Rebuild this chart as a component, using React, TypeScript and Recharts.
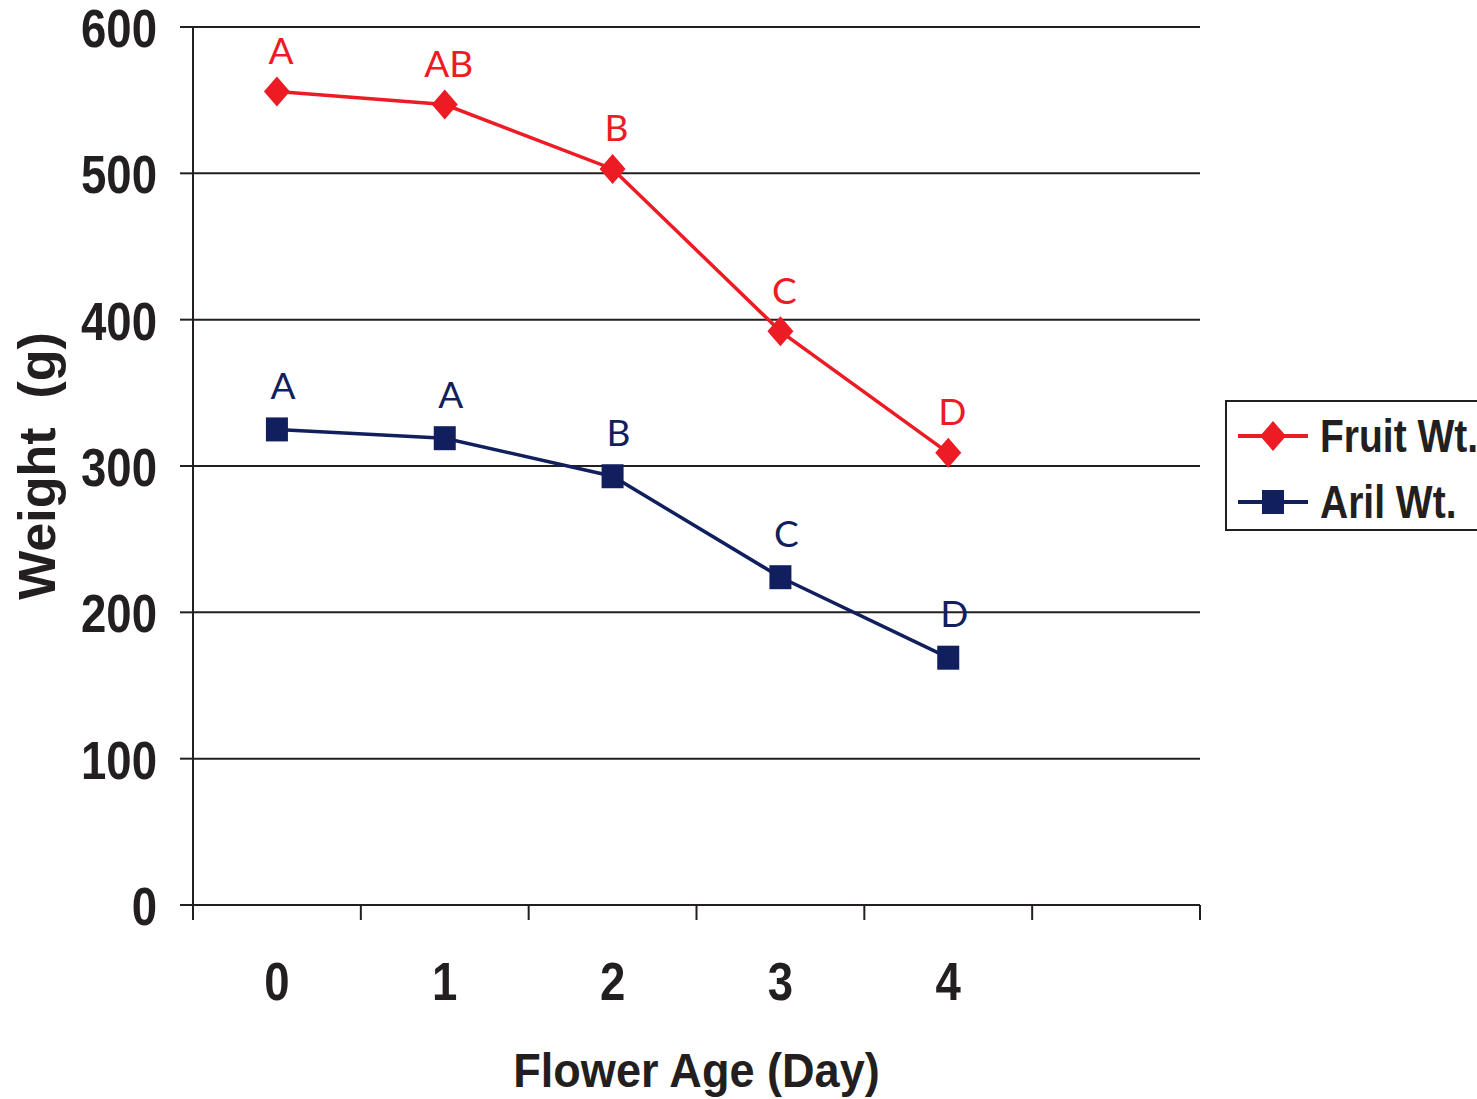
import React from "react";
import {
  LineChart,
  Line,
  XAxis,
  YAxis,
  CartesianGrid,
  Legend,
  LabelList,
  Label,
} from "recharts";

// data
const ages = [0, 1, 2, 3, 4];
const fruitWt = [556, 547, 503, 392, 309];
const arilWt = [325, 319, 293, 224, 169];
const fruitLetters = ["A", "AB", "B", "C", "D"];
const arilLetters = ["A", "A", "B", "C", "D"];
const yTicks = [0, 100, 200, 300, 400, 500, 600];
// six category slots, tick marks sit between them
const slotEdges = [-0.5, 0.5, 1.5, 2.5, 3.5, 4.5, 5.5];
const legendOrder = ["fruit", "aril"];

const RED = "#ED1C24";
const NAVY = "#121F5E";
const INK = "#231F20";

const chartData = ages.map((age, i) => ({
  age,
  fruit: fruitWt[i],
  aril: arilWt[i],
  fruitLetter: fruitLetters[i],
  arilLetter: arilLetters[i],
}));

// no narrow font installed, so squeeze Liberation Sans Bold horizontally
const CondText = ({ x, y, size, sx, anchor = "start", children }: any) => (
  <text
    transform={`translate(${x},${y}) scale(${sx},1)`}
    textAnchor={anchor}
    fill={INK}
    fontFamily="Liberation Sans, Arial, sans-serif"
    fontWeight="bold"
    fontSize={size}
  >
    {children}
  </text>
);

const Diamond = ({ cx, cy }: any) => (
  <polygon
    points={`${cx},${cy - 15} ${cx + 13},${cy} ${cx},${cy + 15} ${cx - 13},${cy}`}
    fill={RED}
  />
);

const Square = ({ cx, cy }: any) => (
  <rect x={cx - 11} y={cy - 12} width={22} height={24} fill={NAVY} />
);

const letter = (color: string, dx: number, dy: number) => (p: any) => (
  <text
    x={p.x + dx}
    y={p.y + dy}
    textAnchor="middle"
    dominantBaseline="central"
    fill={color}
    fontFamily="Lato, sans-serif"
    fontSize={37}
  >
    {p.value}
  </text>
);

const AgeTick = ({ x, y, payload }: any) => {
  const v = payload.value;
  if (ages.includes(v)) {
    return (
      <CondText x={x} y={y + 95} size={53} sx={0.86} anchor="middle">
        {v}
      </CondText>
    );
  }
  return <line x1={x} x2={x} y1={y} y2={y + 15} stroke={INK} strokeWidth={2} />;
};

const WeightTick = ({ x, y, payload }: any) => (
  <CondText x={x} y={y + 20} size={53} sx={0.86} anchor="end">
    {payload.value}
  </CondText>
);

const LegendBox = ({ payload }: any) => {
  const items = [...(payload || [])].sort(
    (a: any, b: any) => legendOrder.indexOf(a.dataKey) - legendOrder.indexOf(b.dataKey)
  );
  return (
    <svg width={252} height={131} style={{ display: "block" }}>
      <path d="M252,1 H1 V130 H252" fill="none" stroke={INK} strokeWidth={2} />
      {items.map((item: any, i: number) => {
        const cy = 36 + i * 66;
        const isFruit = item.dataKey === "fruit";
        const c = isFruit ? RED : NAVY;
        return (
          <g key={item.value}>
            <line x1={13} x2={83} y1={cy} y2={cy} stroke={c} strokeWidth={4} />
            {isFruit ? <Diamond cx={48} cy={cy} /> : <Square cx={48} cy={cy} />}
            <CondText x={95} y={cy + 16} size={47} sx={0.83}>
              {item.value}
            </CondText>
          </g>
        );
      })}
    </svg>
  );
};

export default function App() {
  return (
    <div style={{ position: "absolute", left: 0, top: 0, background: "#fff" }}>
      <LineChart
        width={1477}
        height={1099}
        data={chartData}
        margin={{ top: 27, right: 277, bottom: 0, left: 0 }}
      >
        <CartesianGrid vertical={false} stroke={INK} strokeWidth={2} />
        <XAxis
          dataKey="age"
          type="number"
          domain={[-0.5, 5.5]}
          ticks={[...slotEdges, ...ages]}
          interval={0}
          height={194}
          tickSize={0}
          tickMargin={0}
          tickLine={false}
          axisLine={{ stroke: INK, strokeWidth: 2 }}
          tick={<AgeTick />}
        >
          <Label
            content={(p: any) => (
              <CondText
                x={p.viewBox.x + p.viewBox.width / 2}
                y={p.viewBox.y + 182}
                size={49}
                sx={0.92}
                anchor="middle"
              >
                Flower Age (Day)
              </CondText>
            )}
          />
        </XAxis>
        <YAxis
          width={193}
          domain={[0, 600]}
          ticks={yTicks}
          interval={0}
          tickSize={13}
          tickMargin={23}
          tickLine={{ stroke: INK, strokeWidth: 2 }}
          axisLine={{ stroke: INK, strokeWidth: 2 }}
          tick={<WeightTick />}
        >
          <Label
            value={"Weight\u00A0 (g)"}
            angle={-90}
            position="insideLeft"
            offset={37}
            fill={INK}
            fontFamily="Liberation Sans, Arial, sans-serif"
            fontWeight="bold"
            fontSize={52}
            style={{ textAnchor: "middle" }}
          />
        </YAxis>
        <YAxis
          yAxisId="frame"
          orientation="right"
          width={0}
          domain={[0, 600]}
          tick={false}
          tickLine={false}
          axisLine={{ stroke: INK, strokeWidth: 2 }}
        />
        <Legend
          layout="horizontal"
          verticalAlign="middle"
          align="center"
          content={<LegendBox />}
          wrapperStyle={{ left: 1225, top: 400, width: 252, height: 131 }}
        />
        <Line
          dataKey="fruit"
          name="Fruit Wt."
          stroke={RED}
          strokeWidth={3.5}
          dot={<Diamond />}
          activeDot={false}
          isAnimationActive={false}
        >
          <LabelList dataKey="fruitLetter" content={letter(RED, 4, -42)} />
        </Line>
        <Line
          dataKey="aril"
          name="Aril Wt."
          stroke={NAVY}
          strokeWidth={3.5}
          dot={<Square />}
          activeDot={false}
          isAnimationActive={false}
        >
          <LabelList dataKey="arilLetter" content={letter(NAVY, 6, -45)} />
        </Line>
      </LineChart>
    </div>
  );
}
